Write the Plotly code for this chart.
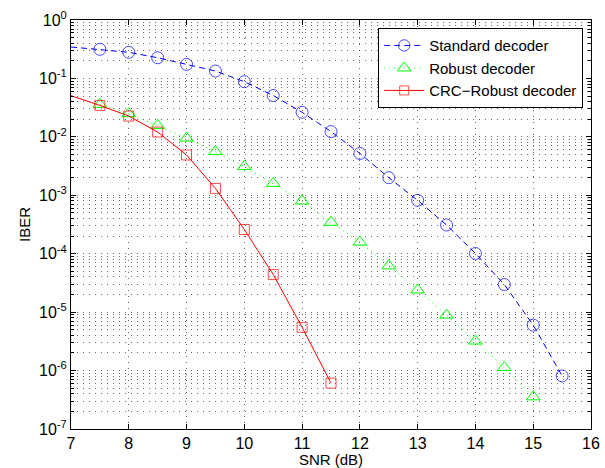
import plotly.graph_objects as go

snr_std = [7, 7.5, 8, 8.5, 9, 9.5, 10, 10.5, 11, 11.5, 12, 12.5, 13, 13.5, 14, 14.5, 15, 15.5]
iber_std = [0.345, 0.315, 0.28, 0.226, 0.174, 0.134, 0.088, 0.051, 0.0263, 0.0123, 0.0052,
            0.0020, 0.00082, 0.00031, 1.01e-4, 2.97e-5, 6.0e-6, 8.1e-7]

snr_rob = [7.5, 8, 8.5, 9, 9.5, 10, 10.5, 11, 11.5, 12, 12.5, 13, 13.5, 14, 14.5, 15]
iber_rob = [0.036, 0.025, 0.0157, 0.0095, 0.0056, 0.0031, 0.0016, 0.00080, 0.000345, 0.000158,
            6.2e-5, 2.4e-5, 8.9e-6, 3.2e-6, 1.13e-6, 3.55e-7]

snr_crc = [7, 7.5, 8, 8.5, 9, 9.5, 10, 10.5, 11, 11.5]
iber_crc = [0.0506, 0.0345, 0.0227, 0.0121, 0.0049, 0.00131, 0.00026, 4.4e-5, 5.5e-6, 6.1e-7]

x_ticks = list(range(7, 17))
y_exps = list(range(-7, 1))

font_family = "Liberation Sans, Arial, sans-serif"

def sizes(xs, s, first_hidden):
    out = [s] * len(xs)
    if first_hidden:
        out[0] = 0
    return out

fig = go.Figure()
fig.add_trace(go.Scatter(
    x=snr_std, y=iber_std, mode="lines+markers", name="Standard decoder",
    line=dict(color="#0000ff", width=1, dash="6px,4px"),
    marker=dict(symbol="circle-open", size=sizes(snr_std, 12, True), color="#0000ff",
                line=dict(width=1, color="#0000ff")),
))
fig.add_trace(go.Scatter(
    x=snr_rob, y=iber_rob, mode="lines+markers", name="Robust decoder",
    line=dict(color="#00ff00", width=1, dash="1px,4px"),
    marker=dict(symbol="triangle-up-open", size=12, color="#00ff00",
                line=dict(width=1, color="#00ff00")),
))
fig.add_trace(go.Scatter(
    x=snr_crc, y=iber_crc, mode="lines+markers", name="CRC\u2212Robust decoder",
    line=dict(color="#ff0000", width=1),
    marker=dict(symbol="square-open", size=sizes(snr_crc, 10, True), color="#ff0000",
                line=dict(width=1, color="#ff0000")),
))

minor_vals = [k * 10.0 ** e for e in range(-7, 0) for k in range(2, 10)]
grid_col = "rgba(40,40,40,0.7)"
grid_dash = "1px,5px"

fig.update_layout(
    width=605, height=468,
    margin=dict(l=71, r=14, t=20, b=39),
    paper_bgcolor="white", plot_bgcolor="white",
    font=dict(family=font_family, size=15, color="black"),
    showlegend=True,
    legend=dict(
        x=0.985, y=0.98, xanchor="right", yanchor="top",
        bgcolor="white", bordercolor="black", borderwidth=1,
        font=dict(size=15), tracegroupgap=0, itemwidth=40,
    ),
    xaxis=dict(
        range=[7, 16], tickvals=x_ticks, ticktext=[str(v) for v in x_ticks],
        ticks="inside", ticklen=5, tickcolor="black",
        showline=True, linecolor="black", linewidth=1, mirror="allticks",
        showgrid=True, gridcolor=grid_col, griddash=grid_dash, gridwidth=1,
        zeroline=False, automargin=False,
        title=dict(text="SNR (dB)", standoff=0, font=dict(size=15)),
        tickfont=dict(size=16),
    ),
    yaxis=dict(
        type="log", range=[-7, 0],
        tickvals=[10.0 ** e for e in y_exps],
        ticktext=["10<sup>%d</sup>" % e for e in y_exps],
        ticks="inside", ticklen=5, tickcolor="black",
        showline=True, linecolor="black", linewidth=1, mirror="allticks",
        showgrid=True, gridcolor=grid_col, griddash=grid_dash, gridwidth=1,
        zeroline=False, automargin=False,
        minor=dict(tickvals=minor_vals, ticks="inside", ticklen=3, tickcolor="black",
                   showgrid=True, gridcolor=grid_col, griddash=grid_dash, gridwidth=1),
        title=dict(text="IBER", standoff=4, font=dict(size=15)),
        tickfont=dict(size=16),
    ),
)

fig.write_html("out.html", config={"displayModeBar": False},
               post_script="document.body.style.margin='0px';document.body.style.padding='0px';")
